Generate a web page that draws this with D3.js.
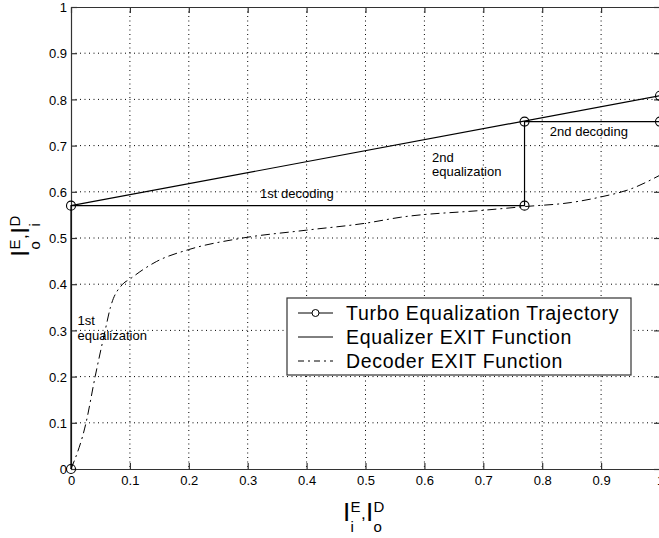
<!DOCTYPE html>
<html>
<head>
<meta charset="utf-8">
<script src="https://cdn.jsdelivr.net/npm/d3@7"></script>
<style>
  body { margin: 0; background: #fff; }
  text { font-family: "Liberation Sans", Arial, sans-serif; fill: #000; }
</style>
</head>
<body>
<script>
// trajectory corners (x, y)
var trajectory = [
  [0, 0], [0, 0.57], [0.77, 0.57], [0.77, 0.752], [1, 0.752], [1, 0.808]
];
// equalizer EXIT function (straight line)
var equalizer = [[0, 0.57], [1, 0.808]];
// decoder EXIT function
var decoder = [
  [0, 0], [0.0255, 0.1], [0.041, 0.2], [0.058, 0.3], [0.067, 0.35],
  [0.0877, 0.4], [0.1, 0.411], [0.117, 0.427], [0.145, 0.449], [0.2, 0.475],
  [0.287, 0.499], [0.4, 0.517], [0.5, 0.532], [0.56, 0.545], [0.7, 0.56],
  [0.77, 0.568], [0.85, 0.577], [0.9, 0.589], [0.95, 0.606], [1, 0.636]
];
var ticks = [0, 0.1, 0.2, 0.3, 0.4, 0.5, 0.6, 0.7, 0.8, 0.9, 1];
var legendItems = ["Turbo Equalization Trajectory", "Equalizer EXIT Function", "Decoder EXIT Function"];

var W = 659, H = 538;
var padL = 71, padR = 660, padT = 7, padB = 469;

var x = d3.scaleLinear().domain([0, 1]).range([padL, padR]);
var y = d3.scaleLinear().domain([0, 1]).range([padB, padT]);

var svg = d3.select("body").append("svg")
  .attr("width", W).attr("height", H);

// grid
svg.append("g").selectAll("line").data(ticks.slice(1, -1)).enter().append("line")
  .attr("x1", function(d) { return x(d); }).attr("x2", function(d) { return x(d); })
  .attr("y1", padT).attr("y2", padB)
  .attr("stroke", "#000").attr("stroke-width", 1).attr("stroke-dasharray", "1,3.5");
svg.append("g").selectAll("line").data(ticks.slice(1, -1)).enter().append("line")
  .attr("y1", function(d) { return y(d); }).attr("y2", function(d) { return y(d); })
  .attr("x1", padL).attr("x2", padR)
  .attr("stroke", "#000").attr("stroke-width", 1).attr("stroke-dasharray", "1,3.5");

// axes with inward ticks
var xb = svg.append("g").attr("transform", "translate(0," + padB + ")")
  .call(d3.axisBottom(x).tickValues(ticks).tickSizeInner(-6).tickSizeOuter(0).tickPadding(7)
    .tickFormat(d3.format("")));
var yl = svg.append("g").attr("transform", "translate(" + padL + ",0)")
  .call(d3.axisLeft(y).tickValues(ticks).tickSizeInner(-6).tickSizeOuter(0).tickPadding(4)
    .tickFormat(d3.format("")));
var xt = svg.append("g").attr("transform", "translate(0," + padT + ")")
  .call(d3.axisTop(x).tickValues(ticks).tickSizeInner(-6).tickSizeOuter(0).tickFormat(""));
var yr = svg.append("g").attr("transform", "translate(" + padR + ",0)")
  .call(d3.axisRight(y).tickValues(ticks).tickSizeInner(-6).tickSizeOuter(0).tickFormat(""));
[xb, yl, xt, yr].forEach(function(g) {
  g.selectAll("path, line").attr("stroke", "#333").attr("stroke-width", 1.2);
  g.selectAll("text").style("font-size", "13px")
    .style("font-family", "'Liberation Sans', Arial, sans-serif");
});
yl.selectAll("text").attr("dy", "0.36em");

var line = d3.line().x(function(d) { return x(d[0]); }).y(function(d) { return y(d[1]); });

svg.append("path").datum(decoder).attr("d", line.curve(d3.curveMonotoneX))
  .attr("fill", "none").attr("stroke", "#000").attr("stroke-width", 1)
  .attr("stroke-dasharray", "9,4,2,4");
line.curve(d3.curveLinear);
svg.append("path").datum(equalizer).attr("d", line)
  .attr("fill", "none").attr("stroke", "#000").attr("stroke-width", 1.2);
svg.append("path").datum(trajectory).attr("d", line)
  .attr("fill", "none").attr("stroke", "#000").attr("stroke-width", 1.2);
svg.append("g").selectAll("circle").data(trajectory).enter().append("circle")
  .attr("cx", function(d) { return x(d[0]); }).attr("cy", function(d) { return y(d[1]); })
  .attr("r", 4.5).attr("fill", "none").attr("stroke", "#000").attr("stroke-width", 1.1);

// annotations
function note(tx, ty, lines) {
  var t = svg.append("text").attr("x", x(tx)).attr("y", y(ty)).style("font-size", "13px");
  lines.forEach(function(s, i) {
    t.append("tspan").attr("x", x(tx)).attr("dy", i ? 14.5 : 0).text(s);
  });
}
note(0.321, 0.587, ["1st decoding"]);
note(0.813, 0.72, ["2nd decoding"]);
note(0.613, 0.665, ["2nd", "equalization"]);
note(0.011, 0.311, ["1st", "equalization"]);

// legend
var lg = svg.append("g");
lg.append("rect").attr("x", 287).attr("y", 298).attr("width", 344).attr("height", 77)
  .attr("fill", "#fff").attr("stroke", "#333").attr("stroke-width", 1.2);
legendItems.forEach(function(s, i) {
  var cy = 313 + i * 24;
  var l = lg.append("line").attr("x1", 298).attr("x2", 333).attr("y1", cy).attr("y2", cy)
    .attr("stroke", "#000").attr("stroke-width", 1);
  if (i === 2) l.attr("stroke-dasharray", "6,4,2,4");
  if (i === 0) lg.append("circle").attr("cx", 315.5).attr("cy", cy).attr("r", 3.5)
    .attr("fill", "#fff").attr("stroke", "#000");
  lg.append("text").attr("x", 346).attr("y", cy).attr("dy", "0.36em")
    .style("font-size", "19.5px").style("letter-spacing", "0.7px").text(s);
});

// axis labels with sub/superscripts: I^a_b , I^c_d
function axisLabel(g, subs, sups) {
  g.append("text").attr("x", 0).attr("y", 0).style("font-size", "26px").text("I");
  g.append("text").attr("x", 7.5).attr("y", 11).style("font-size", "15px").text(subs[0]);
  g.append("text").attr("x", 7.5).attr("y", -9).style("font-size", "15px").text(sups[0]);
  g.append("text").attr("x", 18).attr("y", -2).style("font-size", "17px").text(",");
  g.append("text").attr("x", 23).attr("y", 0).style("font-size", "26px").text("I");
  g.append("text").attr("x", 30.5).attr("y", 11).style("font-size", "15px").text(subs[1]);
  g.append("text").attr("x", 30.5).attr("y", -9).style("font-size", "15px").text(sups[1]);
}
axisLabel(svg.append("g").attr("transform", "translate(343,521)"), ["i", "o"], ["E", "D"]);
axisLabel(svg.append("g").attr("transform", "translate(29,257) rotate(-90)"), ["o", "i"], ["E", "D"]);
</script>
</body>
</html>
